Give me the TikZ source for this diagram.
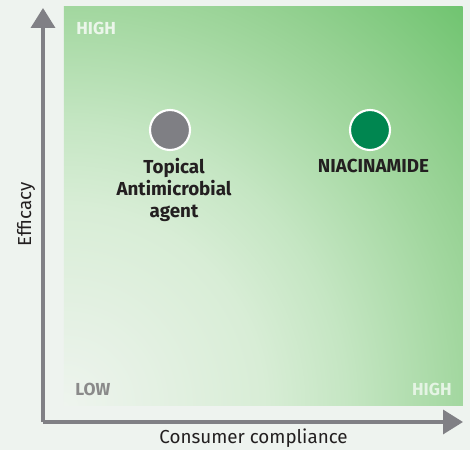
\documentclass[tikz,border=0pt]{standalone}
\usepackage{fontspec}
\setmainfont{Fira Sans}
\usetikzlibrary{arrows.meta,positioning}

\definecolor{bggray}{RGB}{238,243,239}
\definecolor{axisgray}{RGB}{128,128,133}
\definecolor{dotgray}{RGB}{127,127,132}
\definecolor{dotgreen}{RGB}{0,134,80}
\definecolor{inkdark}{RGB}{35,31,32}
\definecolor{lowgray}{RGB}{138,138,138}
\definecolor{glowA}{RGB}{238,244,238}
\definecolor{glowB}{RGB}{216,237,214}
\definecolor{glowC}{RGB}{197,230,195}
\definecolor{glowD}{RGB}{162,215,159}
\definecolor{glowF}{RGB}{149,209,146}
\definecolor{glowE}{RGB}{112,196,112}
% radial glow, centre at the low/low corner
\pgfdeclareradialshading{cornerglow}{\pgfpointorigin}{%
  color(0bp)=(glowA); color(8.84bp)=(glowB); color(12.5bp)=(glowC);
  color(17.7bp)=(glowD); color(19.8bp)=(glowF); color(25bp)=(glowE);
  color(50bp)=(glowE)}

\begin{document}
\begin{tikzpicture}[axis/.style={line width=0.07cm, draw=axisgray,
      -{Triangle[length=0.4cm, width=0.48cm]}},
    dot/.style={circle, draw=white, line width=1.2pt, minimum size=0.8cm, inner sep=0pt},
    label/.style={font=\fontsize{10.7}{12.6}\selectfont, text=inkdark},
    product/.style={font=\fontsize{10.7}{12.6}\selectfont\bfseries, text=inkdark,
      align=center, inner sep=0pt},
    corner/.style={font=\fontsize{9.9}{12}\selectfont\bfseries, inner sep=0pt}]
\fill[bggray] (0,0) rectangle (9.4,9);
\useasboundingbox (0,0) rectangle (9.4,9);

% quadrant
\begin{scope}
  \clip (1.28,0.88) rectangle (9.26,8.86);
  \shade[shading=cornerglow] (1.28,0.88) circle (11.29);
\end{scope}

% axes
\coordinate (origin) at (0.86,0.56);
\coordinate (ytip) at (0.86,8.84);
\coordinate (xtip) at (9.26,0.56);
\draw[axis] (origin) -- (ytip);
\draw[axis] (origin) -- (xtip);
\node[label] (xlabel) at (5.07,0.24) {Consumer compliance};
\node[label, rotate=90] (ylabel) at (0.52,4.72) {Efficacy};

% corner marks
\node[corner, text=white!78!glowD, anchor=west] (highy) at (1.52,8.44) {HIGH};
\node[corner, text=lowgray, anchor=west] (low) at (1.5,1.22) {LOW};
\node[corner, text=white!72!glowD, anchor=east] (highx) at (9.04,1.22) {HIGH};

% products
\node[dot, fill=dotgray] (topical) at (3.4,6.4) {};
\node[product, below=0.14cm of topical, xshift=0.08cm] (topicaltext)
      {Topical\\Antimicrobial\\agent};
\node[dot, fill=dotgreen] (niacin) at (7.4,6.4) {};
\node[product, below=0.16cm of niacin, xshift=0.07cm] (niacintext) {NIACINAMIDE};

\end{tikzpicture}
\end{document}
